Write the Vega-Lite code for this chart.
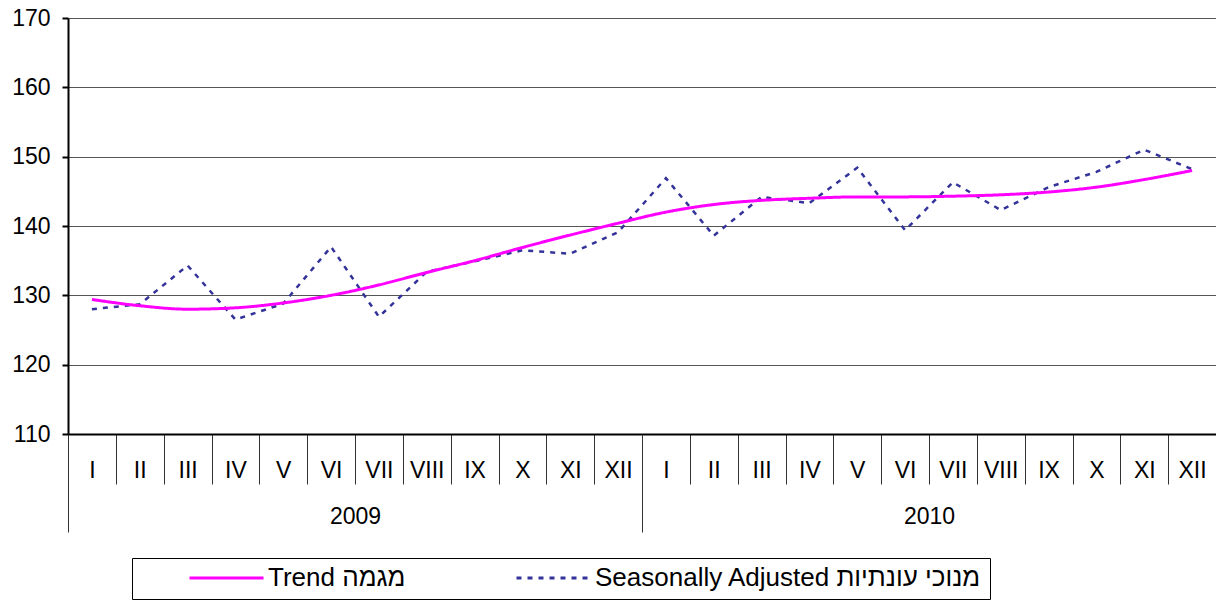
{
  "$schema": "https://vega.github.io/schema/vega-lite/v6.json",
  "width": 1148,
  "height": 416,
  "autosize": {"type": "none"},
  "padding": {"left": 68, "top": 18, "right": 0, "bottom": 167},
  "background": "white",
  "config": {"font": "Liberation Sans", "view": {"stroke": "#d0d0d0"}},
  "data": {"values": [
    {"key": "2009-01", "year": "2009", "series": "Trend מגמה", "value": 129.4},
    {"key": "2009-02", "year": "2009", "series": "Trend מגמה", "value": 128.5},
    {"key": "2009-03", "year": "2009", "series": "Trend מגמה", "value": 128.0},
    {"key": "2009-04", "year": "2009", "series": "Trend מגמה", "value": 128.2},
    {"key": "2009-05", "year": "2009", "series": "Trend מגמה", "value": 128.9},
    {"key": "2009-06", "year": "2009", "series": "Trend מגמה", "value": 130.0},
    {"key": "2009-07", "year": "2009", "series": "Trend מגמה", "value": 131.5},
    {"key": "2009-08", "year": "2009", "series": "Trend מגמה", "value": 133.3},
    {"key": "2009-09", "year": "2009", "series": "Trend מגמה", "value": 135.0},
    {"key": "2009-10", "year": "2009", "series": "Trend מגמה", "value": 136.9},
    {"key": "2009-11", "year": "2009", "series": "Trend מגמה", "value": 138.7},
    {"key": "2009-12", "year": "2009", "series": "Trend מגמה", "value": 140.4},
    {"key": "2010-01", "year": "2010", "series": "Trend מגמה", "value": 142.0},
    {"key": "2010-02", "year": "2010", "series": "Trend מגמה", "value": 143.1},
    {"key": "2010-03", "year": "2010", "series": "Trend מגמה", "value": 143.7},
    {"key": "2010-04", "year": "2010", "series": "Trend מגמה", "value": 144.0},
    {"key": "2010-05", "year": "2010", "series": "Trend מגמה", "value": 144.2},
    {"key": "2010-06", "year": "2010", "series": "Trend מגמה", "value": 144.2},
    {"key": "2010-07", "year": "2010", "series": "Trend מגמה", "value": 144.3},
    {"key": "2010-08", "year": "2010", "series": "Trend מגמה", "value": 144.5},
    {"key": "2010-09", "year": "2010", "series": "Trend מגמה", "value": 144.9},
    {"key": "2010-10", "year": "2010", "series": "Trend מגמה", "value": 145.6},
    {"key": "2010-11", "year": "2010", "series": "Trend מגמה", "value": 146.7},
    {"key": "2010-12", "year": "2010", "series": "Trend מגמה", "value": 148.0},
    {"key": "2009-01", "year": "2009", "series": "Seasonally Adjusted מנוכי עונתיות", "value": 128.0},
    {"key": "2009-02", "year": "2009", "series": "Seasonally Adjusted מנוכי עונתיות", "value": 128.7},
    {"key": "2009-03", "year": "2009", "series": "Seasonally Adjusted מנוכי עונתיות", "value": 134.3},
    {"key": "2009-04", "year": "2009", "series": "Seasonally Adjusted מנוכי עונתיות", "value": 126.5},
    {"key": "2009-05", "year": "2009", "series": "Seasonally Adjusted מנוכי עונתיות", "value": 128.8},
    {"key": "2009-06", "year": "2009", "series": "Seasonally Adjusted מנוכי עונתיות", "value": 137.0},
    {"key": "2009-07", "year": "2009", "series": "Seasonally Adjusted מנוכי עונתיות", "value": 126.9},
    {"key": "2009-08", "year": "2009", "series": "Seasonally Adjusted מנוכי עונתיות", "value": 133.4},
    {"key": "2009-09", "year": "2009", "series": "Seasonally Adjusted מנוכי עונתיות", "value": 134.9},
    {"key": "2009-10", "year": "2009", "series": "Seasonally Adjusted מנוכי עונתיות", "value": 136.5},
    {"key": "2009-11", "year": "2009", "series": "Seasonally Adjusted מנוכי עונתיות", "value": 136.0},
    {"key": "2009-12", "year": "2009", "series": "Seasonally Adjusted מנוכי עונתיות", "value": 139.1},
    {"key": "2010-01", "year": "2010", "series": "Seasonally Adjusted מנוכי עונתיות", "value": 146.9},
    {"key": "2010-02", "year": "2010", "series": "Seasonally Adjusted מנוכי עונתיות", "value": 138.6},
    {"key": "2010-03", "year": "2010", "series": "Seasonally Adjusted מנוכי עונתיות", "value": 144.2},
    {"key": "2010-04", "year": "2010", "series": "Seasonally Adjusted מנוכי עונתיות", "value": 143.3},
    {"key": "2010-05", "year": "2010", "series": "Seasonally Adjusted מנוכי עונתיות", "value": 148.4},
    {"key": "2010-06", "year": "2010", "series": "Seasonally Adjusted מנוכי עונתיות", "value": 139.4},
    {"key": "2010-07", "year": "2010", "series": "Seasonally Adjusted מנוכי עונתיות", "value": 146.3},
    {"key": "2010-08", "year": "2010", "series": "Seasonally Adjusted מנוכי עונתיות", "value": 142.3},
    {"key": "2010-09", "year": "2010", "series": "Seasonally Adjusted מנוכי עונתיות", "value": 145.6},
    {"key": "2010-10", "year": "2010", "series": "Seasonally Adjusted מנוכי עונתיות", "value": 147.8},
    {"key": "2010-11", "year": "2010", "series": "Seasonally Adjusted מנוכי עונתיות", "value": 151.0},
    {"key": "2010-12", "year": "2010", "series": "Seasonally Adjusted מנוכי עונתיות", "value": 148.2}
  ]},
  "layer": [
    {
      "encoding": {
        "x": {
          "field": "key", "type": "ordinal", "bandPosition": 0.5,
          "scale": {"type": "band", "paddingInner": 0, "paddingOuter": 0},
          "axis": {
            "orient": "bottom", "title": null, "tickBand": "extent", "tickSize": 50,
            "tickColor": "#333333", "tickWidth": 1, "labelPadding": -25, "labelFontSize": 23,
            "labelColor": "black", "domainColor": "black", "domainWidth": 2, "labelAngle": 0,
            "grid": false,
            "labelExpr": "['I','II','III','IV','V','VI','VII','VIII','IX','X','XI','XII'][toNumber(substring(datum.label,5,7))-1]"
          }
        },
        "y": {
          "field": "value", "type": "quantitative",
          "scale": {"domain": [110, 170], "nice": false, "zero": false},
          "axis": {
            "title": null, "values": [110, 120, 130, 140, 150, 160, 170], "grid": true,
            "gridColor": "#555555", "gridWidth": 1, "tickSize": 6, "tickColor": "black", "tickWidth": 2,
            "labelPadding": 12, "labelFontSize": 23, "labelColor": "black",
            "domainColor": "black", "domainWidth": 2
          }
        },
        "color": {
          "field": "series", "type": "nominal",
          "scale": {"domain": ["Trend מגמה", "Seasonally Adjusted מנוכי עונתיות"], "range": ["#FF00FF", "#333399"]},
          "legend": {
            "title": null, "orient": "none", "legendX": 64, "legendY": 540, "direction": "horizontal",
            "columns": 2, "symbolType": "stroke", "symbolSize": 5476, "symbolStrokeWidth": 3,
            "labelFontSize": 26, "labelColor": "black", "strokeColor": "black", "fillColor": "white",
            "padding": 8, "columnPadding": 61, "clipHeight": 24, "symbolOffset": 48, "labelOffset": 3,
            "labelLimit": 700
          }
        },
        "strokeDash": {
          "field": "series", "type": "nominal",
          "scale": {"domain": ["Trend מגמה", "Seasonally Adjusted מנוכי עונתיות"], "range": [[1, 0], [5, 6]]}
        }
      },
      "layer": [
        {
          "transform": [{"filter": "datum.series !== 'Trend מגמה'"}],
          "mark": {"type": "line", "strokeWidth": 2.5}
        },
        {
          "transform": [{"filter": "datum.series === 'Trend מגמה'"}],
          "mark": {"type": "line", "strokeWidth": 3, "interpolate": "monotone"}
        }
      ]
    },
    {
      "mark": {"type": "point", "opacity": 0},
      "encoding": {
        "x": {
          "field": "year", "type": "ordinal",
          "scale": {"type": "band", "paddingInner": 0, "paddingOuter": 0},
          "axis": {
            "orient": "bottom", "title": null, "tickBand": "extent", "tickSize": 98,
            "tickColor": "#333333", "tickWidth": 1, "labelPadding": -27, "labelFontSize": 23,
            "labelColor": "black", "domain": false, "labelAngle": 0, "grid": false
          }
        },
        "y": {"field": "value", "type": "quantitative"}
      }
    }
  ],
  "resolve": {"scale": {"x": "independent"}, "axis": {"x": "independent"}}
}
